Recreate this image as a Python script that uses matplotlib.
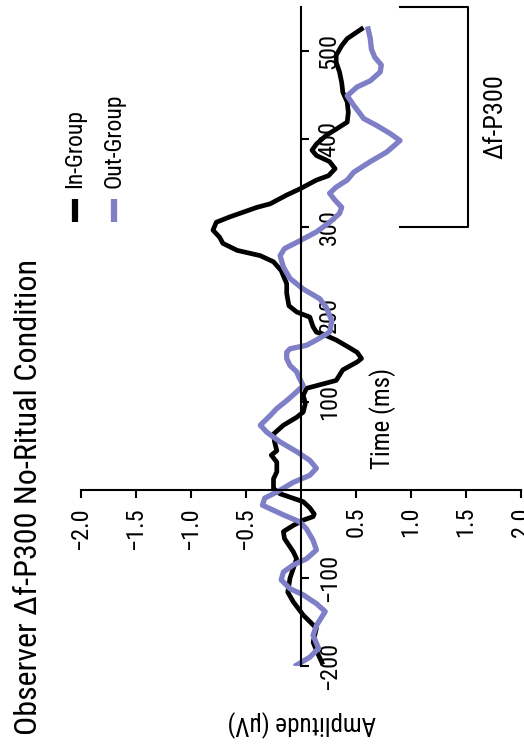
import matplotlib.pyplot as plt
from matplotlib.lines import Line2D

plt.rcParams['font.family'] = ['Roboto Condensed', 'Archivo Narrow', 'PT Sans Narrow',
                               'Liberation Sans', 'DejaVu Sans']

# In-Group (black) trace, time in ms / amplitude in uV
in_time = [-196, -185, -173, -157, -142, -127, -116, -100, -89, -78, -70, -55, -47, -40,
           -34, -30, -27, -20, -13, -4, 2, 13, 21, 32, 40, 45, 55, 64, 74, 83, 89, 99,
           108, 116, 119, 125, 137, 146, 150, 157, 163, 171, 176, 180, 186, 197, 203,
           210, 224, 235, 250, 260, 267, 273, 281, 288, 296, 305, 311, 322, 326, 336,
           343, 353, 358, 366, 374, 381, 387, 394, 404, 411, 419, 430, 442, 453, 464,
           476, 487, 495, 506, 514, 525]
in_amp = [0.19, 0.15, 0.11, 0.14, 0.02, -0.07, -0.12, -0.10, -0.07, -0.04, -0.07, -0.15,
          -0.16, -0.07, 0.02, 0.11, 0.12, 0.08, 0.02, -0.19, -0.25, -0.25, -0.22, -0.22,
          -0.27, -0.22, -0.24, -0.25, -0.16, -0.04, 0.02, 0.04, 0.02, 0.05, 0.14, 0.32,
          0.38, 0.51, 0.55, 0.51, 0.43, 0.32, 0.23, 0.14, 0.11, 0.08, -0.04, -0.11, -0.13,
          -0.13, -0.18, -0.25, -0.37, -0.58, -0.71, -0.74, -0.80, -0.77, -0.65, -0.40,
          -0.28, -0.13, -0.01, 0.14, 0.25, 0.31, 0.26, 0.14, 0.10, 0.14, 0.23, 0.32, 0.42,
          0.43, 0.42, 0.38, 0.37, 0.35, 0.32, 0.32, 0.37, 0.42, 0.55]

# Out-Group (purple) trace
out_time = [-199, -190, -180, -165, -154, -138, -129, -119, -112, -102, -93, -85, -78,
            -68, -57, -44, -36, -28, -17, -9, -2, 9, 17, 25, 34, 44, 55, 66, 74, 85, 93,
            102, 112, 119, 129, 135, 142, 150, 157, 161, 165, 171, 180, 193, 208, 218,
            229, 241, 254, 267, 275, 284, 294, 305, 315, 322, 330, 338, 345, 353, 362,
            374, 385, 398, 406, 415, 423, 438, 449, 459, 466, 476, 484, 493, 502, 514, 525]
out_amp = [-0.04, 0.08, 0.16, 0.11, 0.14, 0.22, 0.14, 0.02, -0.10, -0.18, -0.16, -0.07,
           0.05, 0.14, 0.11, 0.05, -0.01, -0.16, -0.35, -0.33, -0.22, -0.07, 0.08, 0.14,
           0.08, -0.04, -0.19, -0.31, -0.37, -0.28, -0.22, -0.13, -0.04, 0.02, -0.02,
           -0.04, -0.10, -0.13, -0.13, -0.10, 0.05, 0.14, 0.26, 0.28, 0.23, 0.17, 0.02,
           -0.10, -0.16, -0.19, -0.15, -0.01, 0.14, 0.26, 0.35, 0.37, 0.31, 0.26, 0.32,
           0.42, 0.48, 0.63, 0.78, 0.90, 0.81, 0.69, 0.57, 0.48, 0.42, 0.51, 0.63, 0.72,
           0.73, 0.67, 0.64, 0.63, 0.61]

time_ticks = [-200, -100, 100, 200, 300, 400, 500]
amp_ticks = [-2.0, -1.5, -1.0, -0.5, 0.5, 1.0, 1.5, 2.0]
p300_window = [300, 550]

in_color = 'black'
out_color = '#7f7fc8'

W, H = 524, 745
fig = plt.figure(figsize=(W / 100, H / 100), dpi=100)
ax = fig.add_axes([81 / W, (H - 666) / H, 440 / W, 659 / H])

# chart is drawn turned on its side: amplitude runs across, time runs up
ax.plot(in_amp, in_time, color=in_color, lw=3.4, solid_joinstyle='round')
ax.plot(out_amp, out_time, color=out_color, lw=3.8, solid_joinstyle='round')

ax.set_xlim(-2, 2)
ax.set_ylim(-200, 550)
ax.spines['left'].set_visible(False)
ax.spines['top'].set_visible(False)
ax.spines['right'].set_position(('data', 0))
ax.spines['bottom'].set_position(('data', 0))
for s in ['right', 'bottom']:
    ax.spines[s].set_linewidth(1.5)
ax.yaxis.tick_right()

ax.set_xticks(amp_ticks)
ax.set_xticklabels(['%.1f' % v if v > 0 else '\u2212%.1f' % abs(v) for v in amp_ticks])
ax.set_yticks(time_ticks)
ax.set_yticklabels([str(v) if v > 0 else '\u2212%d' % abs(v) for v in time_ticks])
ax.tick_params(direction='out', length=6, width=1.5, labelsize=17.5, pad=6)
for lab in ax.get_xticklabels():
    lab.set_rotation(90)
for lab in ax.get_yticklabels():
    lab.set_rotation(90)
    lab.set_va('center')

# P300 bracket
ax.plot([0.9, 1.52, 1.52, 0.9], [p300_window[1], p300_window[1], p300_window[0], p300_window[0]],
        color='black', lw=1.5, clip_on=False)
ax.text(1.77, sum(p300_window) / 2, '\u0394f-P300', rotation=90, ha='center', va='center',
        fontsize=19)

fig.text(29 / W, 1 - 497 / H, 'Observer \u0394f-P300 No-Ritual Condition', rotation=90,
         ha='center', va='center', fontsize=23)
fig.text(383 / W, 1 - 418 / H, 'Time (ms)', rotation=90, ha='center', va='center', fontsize=18)
fig.text(302 / W, 1 - 723 / H, 'Amplitude (\u00b5V)', rotation=180, ha='center', va='center',
         fontsize=18)

# legend, turned like the rest
for xpix, col, name in [(75, in_color, 'In-Group'), (114, out_color, 'Out-Group')]:
    fig.lines.append(Line2D([xpix / W, xpix / W], [1 - 199 / H, 1 - 222 / H], color=col,
                            lw=4.5, solid_capstyle='butt', transform=fig.transFigure))
    fig.text(xpix / W, 1 - 188 / H, name, rotation=90, ha='center', va='bottom', fontsize=17)

plt.savefig('out.png', dpi=100)
